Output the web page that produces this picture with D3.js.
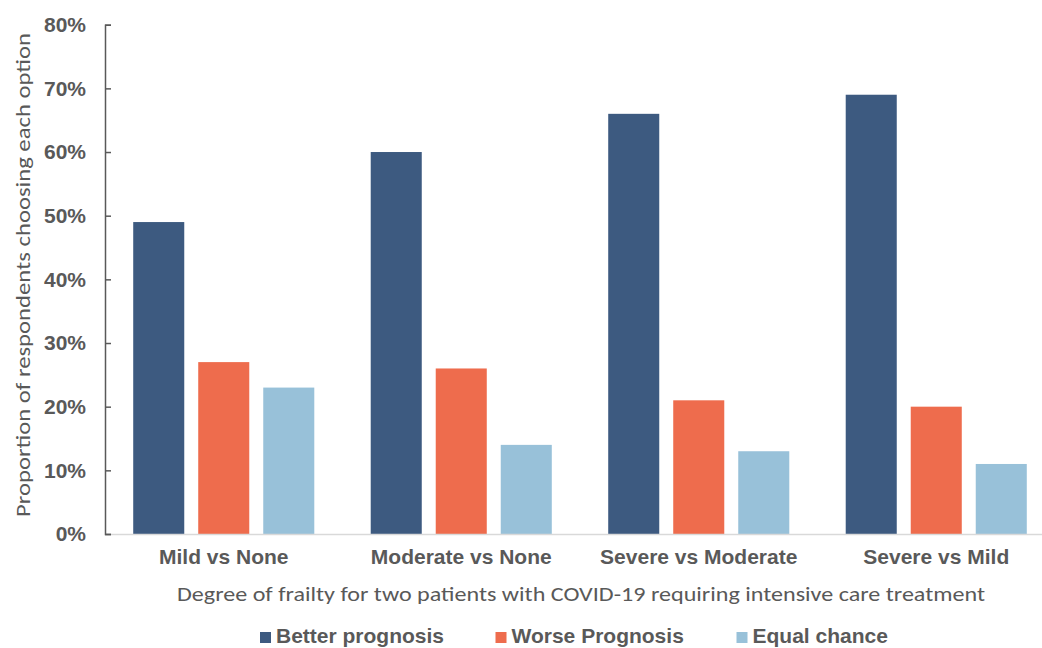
<!DOCTYPE html>
<html>
<head>
<meta charset="utf-8">
<script src="https://cdn.jsdelivr.net/npm/d3@7"></script>
<style>
  html, body { margin: 0; padding: 0; background: #fff; }
  svg { display: block; }
</style>
</head>
<body>
<svg id="chart" width="1042" height="648"></svg>
<script>
// Survey results: share of respondents choosing each prognosis option
const categories = ["Mild vs None", "Moderate vs None", "Severe vs Moderate", "Severe vs Mild"];
const seriesNames = ["Better prognosis", "Worse Prognosis", "Equal chance"];
const betterPrognosis = [49, 60, 66, 69];
const worsePrognosis = [27, 26, 21, 20];
const equalChance = [23, 14, 13, 11];
const yTicks = [0, 10, 20, 30, 40, 50, 60, 70, 80];
const seriesColors = ["#3D5A80", "#EE6C4D", "#98C1D9"];

const seriesValues = [betterPrognosis, worsePrognosis, equalChance];
const rows = categories.map((c, i) => ({
  category: c,
  values: seriesNames.map((s, j) => ({ series: s, value: seriesValues[j][i] }))
}));

const svg = d3.select("#chart");
const textColor = "#595959";
const boldFont = "'Liberation Sans', Arial, sans-serif";
const titleFont = "Carlito, Calibri, Lato, 'Open Sans', sans-serif";

const plotLeft = 105, plotTop = 24.7, plotBottom = 534;
const groupStep = 237.5;

const x0 = d3.scaleBand()
  .domain(categories)
  .range([plotLeft, plotLeft + groupStep * categories.length])
  .paddingInner(0).paddingOuter(0);

const x1 = d3.scaleBand()
  .domain(seriesNames)
  .range([0, x0.bandwidth()])
  .paddingInner(0.215)
  .paddingOuter(0.434);

const y = d3.scaleLinear().domain([0, 80]).range([plotBottom, plotTop]);

const color = d3.scaleOrdinal().domain(seriesNames).range(seriesColors);

// Bars
const groups = svg.append("g").selectAll("g")
  .data(rows)
  .join("g")
  .attr("transform", d => `translate(${x0(d.category)},0)`);

groups.selectAll("rect")
  .data(d => d.values)
  .join("rect")
  .attr("x", d => x1(d.series))
  .attr("width", x1.bandwidth())
  .attr("y", d => y(d.value))
  .attr("height", d => y(0) - y(d.value))
  .attr("fill", d => color(d.series));

// X axis baseline and category labels
const xAxis = svg.append("g")
  .attr("transform", `translate(0,${plotBottom})`)
  .call(d3.axisBottom(x0).tickSize(0).tickPadding(15));
xAxis.select(".domain").attr("stroke", "#d9d9d9").attr("stroke-width", 1.5);
xAxis.selectAll("text")
  .attr("fill", textColor)
  .style("font-family", boldFont)
  .style("font-weight", "bold")
  .style("font-size", "21px");

// Y axis with inward ticks
const yAxis = svg.append("g")
  .attr("transform", `translate(${plotLeft},0)`)
  .call(d3.axisLeft(y).tickValues(yTicks).tickFormat(d => d + "%").tickSize(-6).tickSizeOuter(-6).tickPadding(19));
yAxis.select(".domain").attr("stroke", "#595959").attr("stroke-width", 1.5);
yAxis.selectAll(".tick line").attr("stroke", "#595959").attr("stroke-width", 1.5);
yAxis.selectAll("text")
  .attr("fill", textColor)
  .style("font-family", boldFont)
  .style("font-weight", "bold")
  .style("font-size", "21px");

// Axis titles
svg.append("text")
  .attr("x", 581)
  .attr("y", 601)
  .attr("text-anchor", "middle")
  .attr("fill", textColor)
  .attr("textLength", 808)
  .attr("lengthAdjust", "spacingAndGlyphs")
  .style("font-family", titleFont)
  .style("font-size", "21px")
  .text("Degree of frailty for two patients with COVID-19 requiring intensive care treatment");

svg.append("text")
  .attr("transform", "translate(30,275) rotate(-90)")
  .attr("text-anchor", "middle")
  .attr("fill", textColor)
  .attr("textLength", 484)
  .attr("lengthAdjust", "spacingAndGlyphs")
  .style("font-family", titleFont)
  .style("font-size", "21px")
  .text("Proportion of respondents choosing each option");

// Legend
const legendX = [260, 495.5, 736.5];
const legend = svg.append("g").selectAll("g")
  .data(seriesNames)
  .join("g")
  .attr("transform", (d, i) => `translate(${legendX[i]},0)`);
legend.append("rect")
  .attr("x", 0).attr("y", 632)
  .attr("width", 11).attr("height", 11)
  .attr("fill", d => color(d));
legend.append("text")
  .attr("x", 16)
  .attr("y", 643)
  .attr("fill", textColor)
  .style("font-family", boldFont)
  .style("font-weight", "bold")
  .style("font-size", "21px")
  .text(d => d);
</script>
</body>
</html>
